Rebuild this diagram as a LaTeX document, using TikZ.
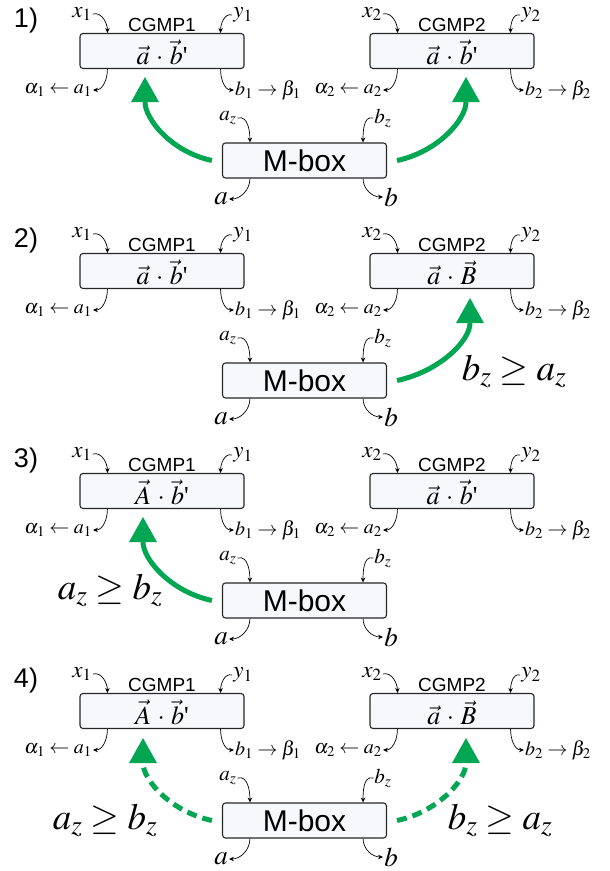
\documentclass[tikz,border=0pt]{standalone}
\usepackage{mathptmx}
\usepackage[no-math]{fontspec}
\setmainfont{Liberation Serif}
\setsansfont{Liberation Sans}
\usetikzlibrary{arrows.meta,positioning}
\definecolor{arrgreen}{RGB}{0,166,81}
\definecolor{boxfill}{RGB}{246,248,252}
\newcommand{\tick}{\mbox{\textquotesingle}}
\newcommand{\dotp}{\,\cdot\,}

\begin{document}
\begin{tikzpicture}[
  x=1pt, y=1pt,
  box/.style={rectangle, draw=black!85, line width=1.1pt, rounded corners=3pt, fill=boxfill, minimum width=164pt, minimum height=35pt, inner sep=0pt, font=\fontsize{26}{30}\selectfont},
  fbox/.style={box, text height=27.5pt, text depth=0pt},
  mboxstyle/.style={box, font=\sffamily\fontsize{30}{34}\selectfont},
  title/.style={font=\sffamily\fontsize{19}{22}\selectfont, inner sep=1.5pt},
  num/.style={font=\sffamily\fontsize{27}{30}\selectfont, inner sep=0pt},
  inlbl/.style={font=\fontsize{23}{26}\selectfont, inner sep=1pt},
  zlbl/.style={font=\fontsize{21}{24}\selectfont, inner sep=1pt},
  outlbl/.style={font=\fontsize{20}{23}\selectfont, inner sep=1pt},
  mlbl/.style={font=\fontsize{27}{30}\selectfont, inner sep=1pt},
  big/.style={font=\fontsize{37}{40}\selectfont, inner sep=0pt},
  sarr/.style={-{Stealth[length=5pt,width=4.5pt]}, line width=0.7pt},
  garr/.style={-{Triangle[length=25pt,width=28pt,line width=0pt]}, line width=5pt, draw=arrgreen},
  gdash/.style={garr, dash pattern=on 10pt off 6pt}
]
\useasboundingbox (0,0) rectangle (610,-871);

% four panels, same boxes, different formulas
\foreach \p/\fl/\fr in {1/{\vec a\dotp\vec b\tick}/{\vec a\dotp\vec b\tick},
                        2/{\vec a\dotp\vec b\tick}/{\vec a\dotp\vec B},
                        3/{\vec A\dotp\vec b\tick}/{\vec a\dotp\vec b\tick},
                        4/{\vec A\dotp\vec b\tick}/{\vec a\dotp\vec B}}{
\begin{scope}[shift={(0,{-220*(\p-1)})}]
\node[num] (n-\p) at (26,-21) {\p)};
\node[fbox] (cg1-\p) at (162,-51) {$\fl$};
\node[fbox] (cg2-\p) at (452,-51) {$\fr$};
\node[mboxstyle] (m-\p) at (304.5,-160.5) {M-box};
\node[title, above=0pt of cg1-\p] (t1-\p) {CGMP1};
\node[title, above=0pt of cg2-\p] (t2-\p) {CGMP2};
\node[inlbl] (x1-\p) at (82,-14) {$x_1$};
\node[inlbl] (y1-\p) at (243,-15) {$y_1$};
\node[inlbl] (x2-\p) at (372,-14) {$x_2$};
\node[inlbl] (y2-\p) at (531,-15) {$y_2$};
\node[outlbl, anchor=east] (a1-\p) at (93,-90) {$\alpha_1\leftarrow a_1$};
\node[outlbl, anchor=west] (b1-\p) at (234,-90) {$b_1\rightarrow\beta_1$};
\node[outlbl, anchor=east] (a2-\p) at (383,-90) {$\alpha_2\leftarrow a_2$};
\node[outlbl, anchor=west] (b2-\p) at (524,-90) {$b_2\rightarrow\beta_2$};
\node[zlbl] (az-\p) at (228,-118) {$a_z$};
\node[zlbl] (bz-\p) at (383,-118) {$b_z$};
\node[mlbl] (a-\p) at (221,-199) {$a$};
\node[mlbl] (b-\p) at (391,-197) {$b$};
% inputs
\draw[sarr] (x1-\p.east) to[out=15,in=90] ([xshift=28pt]cg1-\p.north west);
\draw[sarr] (y1-\p.west) to[out=165,in=90] ([xshift=-24pt]cg1-\p.north east);
\draw[sarr] (x2-\p.east) to[out=15,in=90] ([xshift=28pt]cg2-\p.north west);
\draw[sarr] (y2-\p.west) to[out=165,in=90] ([xshift=-24pt]cg2-\p.north east);
\draw[sarr] (az-\p.east) to[out=15,in=90] ([xshift=28pt]m-\p.north west);
\draw[sarr] (bz-\p.west) to[out=165,in=90] ([xshift=-24pt]m-\p.north east);
% outputs
\draw[sarr] ([xshift=28pt]cg1-\p.south west) to[out=-90,in=0] (a1-\p.east);
\draw[sarr] ([xshift=-24pt]cg1-\p.south east) to[out=-90,in=180] (b1-\p.west);
\draw[sarr] ([xshift=28pt]cg2-\p.south west) to[out=-90,in=0] (a2-\p.east);
\draw[sarr] ([xshift=-24pt]cg2-\p.south east) to[out=-90,in=180] (b2-\p.west);
\draw[sarr] ([xshift=28pt]m-\p.south west) to[out=-90,in=0] (a-\p.east);
\draw[sarr] ([xshift=-24pt]m-\p.south east) to[out=-90,in=180] (b-\p.west);
\end{scope}
}

% 1) both
\draw[garr] ([xshift=-10pt]m-1.west) to[out=168,in=-90] ([xshift=-17pt,yshift=-8pt]cg1-1.south);
\draw[garr] ([xshift=10pt]m-1.east) to[out=12,in=-90] ([xshift=14pt,yshift=-8pt]cg2-1.south);
% 2) right only
\draw[garr] ([xshift=10pt]m-2.east) to[out=12,in=-90] ([xshift=18pt,yshift=-9pt]cg2-2.south);
\node[big, anchor=base] (c-2) at (514,-380) {$b_z\geq a_z$};
% 3) left only
\draw[garr] ([xshift=-10pt]m-3.west) to[out=168,in=-90] ([xshift=-19pt,yshift=-8pt]cg1-3.south);
\node[big, anchor=base] (c-3) at (110,-599) {$a_z\geq b_z$};
% 4) both, dashed
\draw[gdash] ([xshift=-10pt]m-4.west) to[out=168,in=-90] ([xshift=-19pt,yshift=-9pt]cg1-4.south);
\draw[gdash] ([xshift=10pt]m-4.east) to[out=12,in=-90] ([xshift=14pt,yshift=-9pt]cg2-4.south);
\node[big, anchor=base] (c-4l) at (105,-829) {$a_z\geq b_z$};
\node[big, anchor=base] (c-4r) at (500,-829) {$b_z\geq a_z$};
\end{tikzpicture}
\end{document}
